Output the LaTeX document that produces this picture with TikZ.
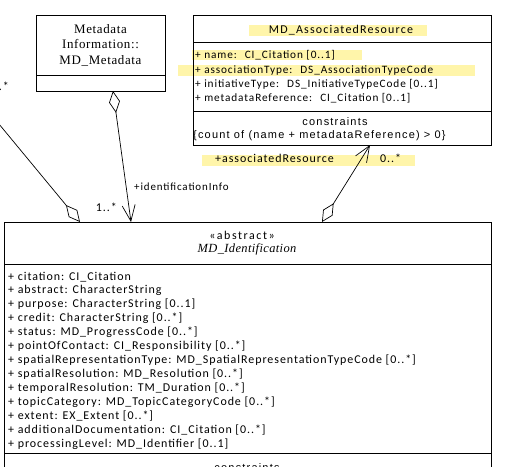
\documentclass[tikz,border=0pt]{standalone}
\usepackage{fontspec}
\setmainfont{Carlito}[LetterSpace=8]
\newfontfamily\carwide{Carlito}[LetterSpace=13]
\newfontfamily\cartitle{Carlito}[LetterSpace=10]
\newfontfamily\serifa{Liberation Serif}[LetterSpace=5]
\newfontfamily\serifi{Liberation Serif}[LetterSpace=3]
\newfontfamily\sansa{Liberation Sans}[LetterSpace=11]
\usetikzlibrary{arrows.meta}
\definecolor{hl}{RGB}{255,245,170}
\begin{document}
\begin{tikzpicture}[x=1bp,y=-1bp,
  f/.style={font=\fontsize{12}{14}\selectfont},
  txt/.style={f, inner sep=0pt, anchor=base west},
  ctxt/.style={f, inner sep=0pt, anchor=base},
  atr/.style={inner sep=0pt, anchor=base west, font=\fontsize{11.3}{14}\selectfont},
  stxt/.style={inner sep=0pt, font=\fontsize{13}{15}\selectfont\serifa, anchor=base},
  atxt/.style={inner sep=0pt, font=\fontsize{11}{13}\selectfont\sansa},
  box/.style={draw, line width=0.8pt, inner sep=0pt, anchor=north west},
  conn/.style={line width=0.7pt}]
\useasboundingbox (0,0) rectangle (511,467);
\clip (0,0) rectangle (511,467);
\fill[white] (0,0) rectangle (511,467);
% highlights
\fill[hl] (249,25) rectangle (427,36);
\fill[hl] (192,50) rectangle (362,60);
\fill[hl] (178,65) rectangle (475,76);
\fill[hl] (202,155) rectangle (415,166);
% boxes
\node[box, minimum width=129bp, minimum height=76bp] (meta) at (36,15) {};
\draw[line width=0.8pt] (36,75) -- (165,75);
\node[stxt] (m1) at (100.5,34) {Metadata};
\node[stxt] (m2) at (100.5,49) {Information::};
\node[stxt] (m3) at (100.5,65) {MD\_Metadata};

\node[box, minimum width=298bp, minimum height=130bp] (assoc) at (193,15) {};
\draw[line width=0.8pt] (193,42) -- (491,42);
\draw[line width=0.8pt] (193,111) -- (491,111);
\node[ctxt, font=\fontsize{12}{14}\selectfont\cartitle] (a0) at (341,34) {MD\_AssociatedResource};
\node[atr] (a1) at (195,59) {+ name: \ CI\_Citation [0..1]};
\node[atr] (a2) at (195,74) {+ associationType: \ DS\_AssociationTypeCode};
\node[atr] (a3) at (195,88) {+ initiativeType: \ DS\_InitiativeTypeCode [0..1]};
\node[atr] (a4) at (195,102) {+ metadataReference: \ CI\_Citation [0..1]};
\node[atxt, anchor=base] (a5) at (335,126) {constraints};
\node[atxt, anchor=base west] (a6) at (193,138.5) {\{count of (name + metadataReference) > 0\}};

\node[box, minimum width=487bp, minimum height=270bp] (ident) at (4,222) {};
\draw[line width=0.8pt] (4,264) -- (491,264);
\draw[line width=0.8pt] (4,453) -- (491,453);
\node[ctxt, font=\fontsize{12}{14}\selectfont\carwide] (i0) at (242,240) {«abstract»};
\node[ctxt, font=\fontsize{12.5}{14}\selectfont\serifi\itshape] (i00) at (247,253) {MD\_Identification};
\foreach \t [count=\k from 0] in {
  {+ citation: CI\_Citation},
  {+ abstract: CharacterString},
  {+ purpose: CharacterString [0..1]},
  {+ credit: CharacterString [0..*]},
  {+ status: MD\_ProgressCode [0..*]},
  {+ pointOfContact: CI\_Responsibility [0..*]},
  {+ spatialRepresentationType: MD\_SpatialRepresentationTypeCode [0..*]},
  {+ spatialResolution: MD\_Resolution [0..*]},
  {+ temporalResolution: TM\_Duration [0..*]},
  {+ topicCategory: MD\_TopicCategoryCode [0..*]},
  {+ extent: EX\_Extent [0..*]},
  {+ additionalDocumentation: CI\_Citation [0..*]},
  {+ processingLevel: MD\_Identifier [0..1]}}
  \node[txt] (attr\k) at (8,{280+13.92*\k}) {\t};
\node[atxt, anchor=base] (icon) at (247,471) {constraints};
% connectors
\coordinate (lfree) at (-6,118);
\coordinate (aggL) at (80,222);
\coordinate (metaB) at (113,91);
\coordinate (identA) at (131,222);
\coordinate (identB) at (322,222);
\coordinate (assocB) at (370,145);
\draw[conn, -{Diamond[open,length=22bp,width=11bp]}] (lfree) -- (aggL);
\draw[conn, {Diamond[open,length=22bp,width=11bp]}-{Straight Barb[length=16bp,width=13bp]}] (metaB) -- (identA);
\draw[conn, {Diamond[open,length=22bp,width=11bp]}-{Straight Barb[length=16bp,width=13bp]}] (identB) -- (assocB);
% labels
\node[txt, anchor=base east] (lm) at (9,91) {0..*};
\node[txt, font=\fontsize{11}{13}\selectfont] (l1) at (134,191) {+identificationInfo};
\node[txt, anchor=base east] (l2) at (117,212) {1..*};
\node[txt] (l3) at (215,163) {+associatedResource};
\node[txt] (l4) at (380,163) {0..*};
\end{tikzpicture}
\end{document}
